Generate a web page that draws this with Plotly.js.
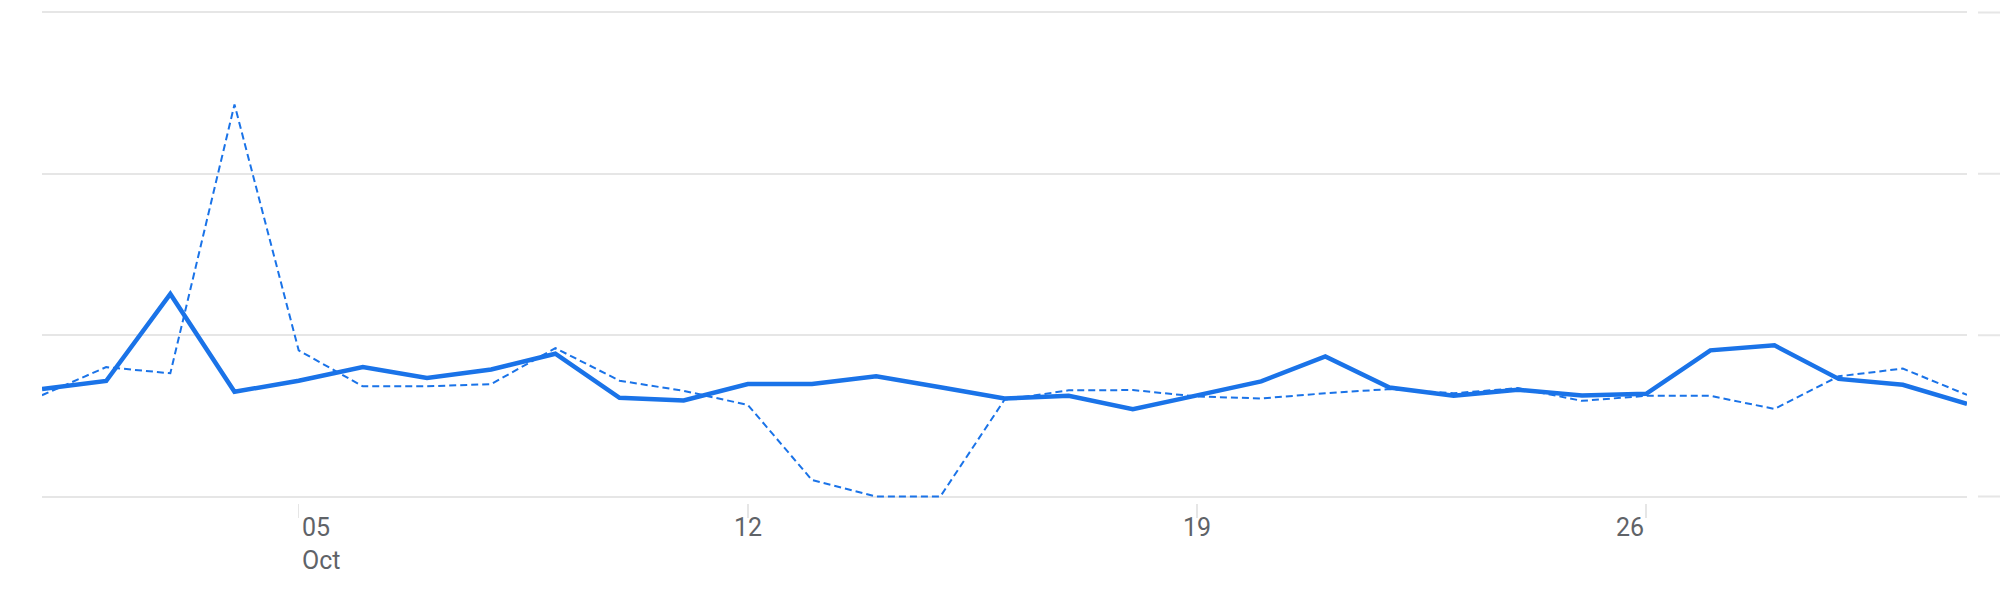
<!DOCTYPE html>
<html>
<head>
<meta charset="utf-8">
<script src="https://cdn.plot.ly/plotly-3.0.1.min.js"></script>
<style>
  html, body { margin: 0; padding: 0; background: #ffffff; }
  #chart { width: 2000px; height: 600px; }
</style>
</head>
<body>
<div id="chart"></div>
<script>
// ---- data ----
const dates = [
  '2023-10-01','2023-10-02','2023-10-03','2023-10-04','2023-10-05','2023-10-06','2023-10-07',
  '2023-10-08','2023-10-09','2023-10-10','2023-10-11','2023-10-12','2023-10-13','2023-10-14',
  '2023-10-15','2023-10-16','2023-10-17','2023-10-18','2023-10-19','2023-10-20','2023-10-21',
  '2023-10-22','2023-10-23','2023-10-24','2023-10-25','2023-10-26','2023-10-27','2023-10-28',
  '2023-10-29','2023-10-30','2023-10-31'
];
const currentSeries = [
  66.6, 71.6, 125.5, 64.9, 71.8, 80.2, 73.5, 78.7, 88.5, 61.2, 59.5, 69.7, 69.7, 74.5,
  67.7, 60.8, 62.4, 54.1, 62.7, 71.4, 86.8, 67.6, 62.4, 66.2, 62.6, 63.7, 90.6, 93.7,
  72.9, 69.3, 57.4
];
const previousSeries = [
  62.8, 80.2, 76.4, 243, 90.6, 68.3, 68.3, 69.7, 92, 71.8, 65.5, 56.8, 10.2, 0,
  0, 60, 65.8, 66, 62, 60.8, 64, 66.6, 64, 67.2, 59.3, 62.4, 62.4, 54.3,
  74.5, 79.3, 63
];
const tickDates = ['2023-10-05', '2023-10-12', '2023-10-19', '2023-10-26'];
const tickLabels = ['05<br>Oct', '12', '19', '26'];
const tickAnchors = ['left', 'center', 'center', 'right'];
const gridValues = [0, 100, 200, 300];

// ---- styles ----
const blue = '#1a73e8';
const gridColor = '#e6e6e6';
const labelColor = '#5f6368';

const traces = [
  {
    x: dates, y: previousSeries, type: 'scatter', mode: 'lines',
    line: { color: blue, width: 2, dash: '7px,4px' },
    hoverinfo: 'skip', showlegend: false
  },
  {
    x: dates, y: currentSeries, type: 'scatter', mode: 'lines',
    line: { color: blue, width: 4.5 },
    hoverinfo: 'skip', showlegend: false
  }
];

const annotations = tickDates.map((d, i) => ({
  x: d, xref: 'x', y: 0, yref: 'paper',
  text: tickLabels[i], showarrow: false,
  xanchor: tickAnchors[i], yanchor: 'top', align: 'left',
  xshift: tickAnchors[i] === 'left' ? 1 : 0,
  yshift: -8,
  font: { family: 'Roboto, sans-serif', size: 25, color: labelColor }
}));

const shapes = gridValues.map(v => ({
  type: 'line', xref: 'paper', yref: 'y',
  x0: 1.0057, x1: 1.03, y0: v, y1: v,
  line: { color: gridColor, width: 2 }
}));

const layout = {
  width: 2000, height: 600,
  margin: { l: 42, r: 33, t: 6, b: 97, pad: 0 },
  paper_bgcolor: '#ffffff', plot_bgcolor: '#ffffff',
  showlegend: false,
  hovermode: false,
  xaxis: {
    type: 'date',
    range: [dates[0], dates[dates.length - 1]],
    tickvals: tickDates,
    showticklabels: false,
    ticks: 'outside', ticklen: 14, tickwidth: 1.5, tickcolor: gridColor,
    showgrid: false, zeroline: false, showline: false,
    fixedrange: true
  },
  yaxis: {
    range: [-4, 304],
    tickvals: gridValues,
    showticklabels: false,
    showgrid: true, gridcolor: gridColor, gridwidth: 2,
    zeroline: false, showline: false, ticks: '',
    fixedrange: true
  },
  annotations: annotations,
  shapes: shapes
};

Plotly.newPlot('chart', traces, layout, { displayModeBar: false, staticPlot: true });
</script>
</body>
</html>
